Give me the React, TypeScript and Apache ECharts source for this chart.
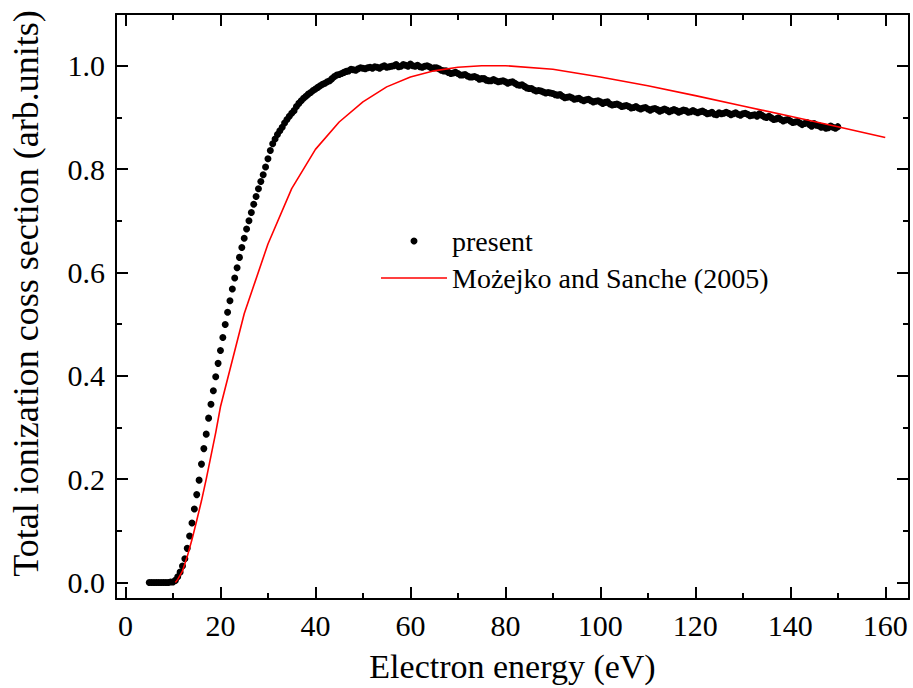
import React, { useEffect, useRef } from 'react';
import * as echarts from 'echarts';

const FONT = 'Liberation Serif, Times New Roman, Times, serif';

// x ticks
const xMajor = [0, 20, 40, 60, 80, 100, 120, 140, 160];
const xMinor = [10, 30, 50, 70, 90, 110, 130, 150];
const yMajor = [0, 0.2, 0.4, 0.6, 0.8, 1.0];
const yMinor = [0.1, 0.3, 0.5, 0.7, 0.9];

const X_MIN = -2;
const X_MAX = 165;
const Y_MIN = -0.032;
const Y_MAX = 1.1;

// "present" measurement: electron energy (eV)
const presentE = [
  5, 5.5, 6, 6.5, 7, 7.5, 8, 8.5, 9, 9.5,
  10, 10.5, 11, 11.5, 12, 12.5, 13, 13.5, 14, 14.5,
  15, 15.5, 16, 16.5, 17, 17.5, 18, 18.5, 19, 19.5,
  20, 20.5, 21, 21.5, 22, 22.5, 23, 23.5, 24, 24.5,
  25, 25.5, 26, 26.5, 27, 27.5, 28, 28.5, 29, 29.5,
  30, 30.5, 31, 31.5, 32, 32.5, 33, 33.5, 34, 34.5,
  35, 35.5, 36, 36.5, 37, 37.5, 38, 38.5, 39, 39.5,
  40, 40.5, 41, 41.5, 42, 42.5, 43, 43.5, 44, 44.5,
  45, 45.5, 46,
  47, 48, 49, 50, 51, 52, 53, 54, 55, 56, 57, 58, 59, 60,
  61, 62, 63, 64, 65, 66, 67, 68, 69, 70,
  71, 72, 73, 74, 75, 76, 77, 78, 79, 80,
  81, 82, 83, 84, 85, 86, 87, 88, 89, 90,
  91, 92, 93, 94, 95, 96, 97, 98, 99, 100,
  101, 102, 103, 104, 105, 106, 107, 108, 109, 110,
  111, 112, 113, 114, 115, 116, 117, 118, 119, 120,
  121, 122, 123, 124, 125, 126, 127, 128, 129, 130,
  131, 132, 133, 134, 135, 136, 137, 138, 139, 140,
  141, 142, 143, 144, 145, 146, 147, 148, 149, 150,
];
// "present" measurement: total ionization cross section (arb. units)
const presentY = [
  0, 0, 0, 0, 0, 0, 0, 0, 0, 0.001,
  0.001, 0.004, 0.011, 0.02, 0.032, 0.046, 0.066, 0.09, 0.115, 0.142,
  0.17, 0.198, 0.229, 0.259, 0.287, 0.318, 0.345, 0.371, 0.398, 0.424,
  0.449, 0.474, 0.499, 0.523, 0.545, 0.568, 0.589, 0.609, 0.629, 0.648,
  0.666, 0.684, 0.7, 0.716, 0.732, 0.747, 0.762, 0.776, 0.789, 0.804,
  0.82, 0.836, 0.849, 0.858, 0.867, 0.874, 0.881, 0.889, 0.896, 0.902,
  0.908, 0.913, 0.921, 0.927, 0.932, 0.937, 0.941, 0.945, 0.948, 0.952,
  0.955, 0.958, 0.961, 0.964, 0.966, 0.969, 0.971, 0.975, 0.979, 0.982,
  0.983, 0.985, 0.987,
  0.99, 0.992, 0.994, 0.995, 0.996, 0.995, 0.997, 0.998, 0.997, 0.999, 1.002, 0.999, 1.001, 1.003,
  0.999, 0.998, 0.999, 0.998, 0.996, 0.994, 0.99, 0.987, 0.986, 0.985,
  0.982, 0.98, 0.978, 0.977, 0.975, 0.972, 0.971, 0.971, 0.97, 0.969,
  0.968, 0.966, 0.962, 0.96, 0.956, 0.953, 0.952, 0.949, 0.948, 0.946,
  0.943, 0.941, 0.939, 0.938, 0.936, 0.934, 0.934, 0.932, 0.931, 0.93,
  0.929, 0.926, 0.925, 0.924, 0.922, 0.921, 0.919, 0.918, 0.918, 0.916,
  0.916, 0.915, 0.914, 0.914, 0.913, 0.913, 0.912, 0.913, 0.911, 0.911,
  0.911, 0.91, 0.908, 0.906, 0.909, 0.908, 0.908, 0.907, 0.906, 0.907,
  0.906, 0.904, 0.902, 0.904, 0.9, 0.899, 0.897, 0.896, 0.895, 0.893,
  0.891, 0.889, 0.888, 0.886, 0.888, 0.884, 0.882, 0.88, 0.881, 0.882,
];
// "present" measurement, intermediate points of the dense (noisy) high-energy band
const presentE2 = [
  46.5, 47.5, 48.5, 49.5,
  50.5, 51.5, 52.5, 53.5, 54.5, 55.5, 56.5, 57.5, 58.5, 59.5,
  60.5, 61.5, 62.5, 63.5, 64.5, 65.5, 66.5, 67.5, 68.5, 69.5,
  70.5, 71.5, 72.5, 73.5, 74.5, 75.5, 76.5, 77.5, 78.5, 79.5,
  80.5, 81.5, 82.5, 83.5, 84.5, 85.5, 86.5, 87.5, 88.5, 89.5,
  90.5, 91.5, 92.5, 93.5, 94.5, 95.5, 96.5, 97.5, 98.5, 99.5,
  100.5, 101.5, 102.5, 103.5, 104.5, 105.5, 106.5, 107.5, 108.5, 109.5,
  110.5, 111.5, 112.5, 113.5, 114.5, 115.5, 116.5, 117.5, 118.5, 119.5,
  120.5, 121.5, 122.5, 123.5, 124.5, 125.5, 126.5, 127.5, 128.5, 129.5,
  130.5, 131.5, 132.5, 133.5, 134.5, 135.5, 136.5, 137.5, 138.5, 139.5,
  140.5, 141.5, 142.5, 143.5, 144.5, 145.5, 146.5, 147.5, 148.5, 149.5,
];
const presentY2 = [
  0.989, 0.993, 0.991, 0.996,
  0.994, 0.997, 0.998, 0.995, 1.0, 0.998, 1.0, 0.998, 1.002, 0.999,
  1.0, 1.001, 0.997, 1.0, 0.995, 0.996, 0.991, 0.99, 0.985, 0.987,
  0.982, 0.983, 0.978, 0.979, 0.974, 0.975, 0.971, 0.973, 0.969, 0.971,
  0.966, 0.969, 0.963, 0.963, 0.957, 0.956, 0.951, 0.951, 0.947, 0.947,
  0.944, 0.944, 0.938, 0.94, 0.935, 0.937, 0.932, 0.935, 0.93, 0.932,
  0.927, 0.93, 0.924, 0.926, 0.921, 0.923, 0.918, 0.921, 0.916, 0.919,
  0.914, 0.917, 0.912, 0.916, 0.911, 0.915, 0.91, 0.914, 0.91, 0.913,
  0.909, 0.912, 0.907, 0.91, 0.905, 0.907, 0.91, 0.905, 0.909, 0.904,
  0.908, 0.903, 0.905, 0.907, 0.901, 0.902, 0.896, 0.899, 0.893, 0.896,
  0.89, 0.892, 0.886, 0.89, 0.883, 0.885, 0.881, 0.879, 0.883, 0.879,
];

// Możejko and Sanche (2005)
const modE = [10.5, 11, 12, 13, 14, 15, 16, 17, 18, 19, 20, 25, 30, 35, 40, 45, 50, 55, 60, 65, 70, 75, 80, 90, 100, 110, 120, 130, 140, 150, 160];
const modY = [0, 0.006, 0.022, 0.05, 0.083, 0.12, 0.158, 0.2, 0.245, 0.29, 0.34, 0.52, 0.655, 0.762, 0.838, 0.891, 0.93, 0.959, 0.978, 0.99, 0.997, 1.0, 1.0, 0.993, 0.978, 0.961, 0.942, 0.922, 0.902, 0.882, 0.861];

const SERIES_PRESENT = 'present';
const SERIES_MOD = 'Możejko and Sanche (2005)';

const BLACK = '#000000';
const RED = '#ff0000';

function xAxisDef(position: 'top' | 'bottom', values: number[], len: number, showLine: boolean, labels: boolean, name?: string) {
  return {
    type: 'value',
    position,
    min: X_MIN,
    max: X_MAX,
    name,
    nameLocation: 'middle',
    nameGap: 50,
    nameTextStyle: { fontFamily: FONT, fontSize: 34, color: BLACK },
    splitLine: { show: false },
    axisLine: { show: showLine, onZero: false, lineStyle: { color: BLACK, width: 2 } },
    axisTick: { show: true, inside: true, length: len, customValues: values, lineStyle: { color: BLACK, width: 2 } },
    axisLabel: labels
      ? { show: true, customValues: values, fontFamily: FONT, fontSize: 30, color: BLACK, margin: 11 }
      : { show: false },
  };
}

function yAxisDef(position: 'left' | 'right', values: number[], len: number, showLine: boolean, labels: boolean, name?: string) {
  return {
    type: 'value',
    position,
    min: Y_MIN,
    max: Y_MAX,
    name,
    nameLocation: 'middle',
    nameGap: 72,
    nameTextStyle: { fontFamily: FONT, fontSize: 36, color: BLACK, padding: [0, 0, 0, 26] },
    splitLine: { show: false },
    axisLine: { show: showLine, onZero: false, lineStyle: { color: BLACK, width: 2 } },
    axisTick: { show: true, inside: true, length: len, customValues: values, lineStyle: { color: BLACK, width: 2 } },
    axisLabel: labels
      ? {
          show: true,
          customValues: values,
          fontFamily: FONT,
          fontSize: 30,
          color: BLACK,
          margin: 11,
          formatter: (v: number) => v.toFixed(1),
        }
      : { show: false },
  };
}

export default function App() {
  const ref = useRef<HTMLDivElement>(null);
  useEffect(() => {
    if (!ref.current) return;
    const chart = echarts.init(ref.current, null, { renderer: 'svg' });
    const presentData = presentE
      .map((e, i) => [e, presentY[i]])
      .concat(presentE2.map((e, i) => [e, presentY2[i]]));
    const option = {
      animation: false,
      backgroundColor: '#ffffff',
      textStyle: { fontFamily: FONT },
      grid: { left: 114, right: 4, top: 14, bottom: 89, containLabel: false },
      legend: {
        orient: 'vertical',
        left: 381,
        top: 227,
        padding: 0,
        itemWidth: 66,
        itemHeight: 7,
        itemGap: 9,
        textStyle: { fontFamily: FONT, fontSize: 28, color: BLACK },
        data: [
          { name: SERIES_PRESENT, icon: 'circle' },
          { name: SERIES_MOD, icon: 'path://M0 0H66V1.6H0Z' },
        ],
      },
      xAxis: [
        xAxisDef('bottom', xMajor, 12, true, true, 'Electron energy (eV)'),
        xAxisDef('bottom', xMinor, 6, false, false),
        xAxisDef('top', xMajor, 12, true, false),
        xAxisDef('top', xMinor, 6, false, false),
      ],
      yAxis: [
        yAxisDef('left', yMajor, 12, true, true, 'Total ionization coss section (arb.units)'),
        yAxisDef('left', yMinor, 6, false, false),
        yAxisDef('right', yMajor, 12, true, false),
        yAxisDef('right', yMinor, 6, false, false),
      ],
      series: [
        {
          name: SERIES_PRESENT,
          type: 'scatter',
          xAxisIndex: 0,
          yAxisIndex: 0,
          symbol: 'circle',
          symbolSize: 7,
          itemStyle: { color: BLACK, opacity: 1 },
          z: 2,
          data: presentData,
        },
        {
          name: SERIES_MOD,
          type: 'line',
          xAxisIndex: 0,
          yAxisIndex: 0,
          symbol: 'none',
          showSymbol: false,
          smooth: false,
          lineStyle: { color: RED, width: 1.6 },
          itemStyle: { color: RED },
          z: 3,
          data: modE.map((e, i) => [e, modY[i]]),
        },
      ],
    };
    chart.setOption(option as any);
    return () => chart.dispose();
  }, []);
  return <div ref={ref} style={{ position: 'fixed', left: 0, top: 0, width: 913, height: 688 }} />;
}
